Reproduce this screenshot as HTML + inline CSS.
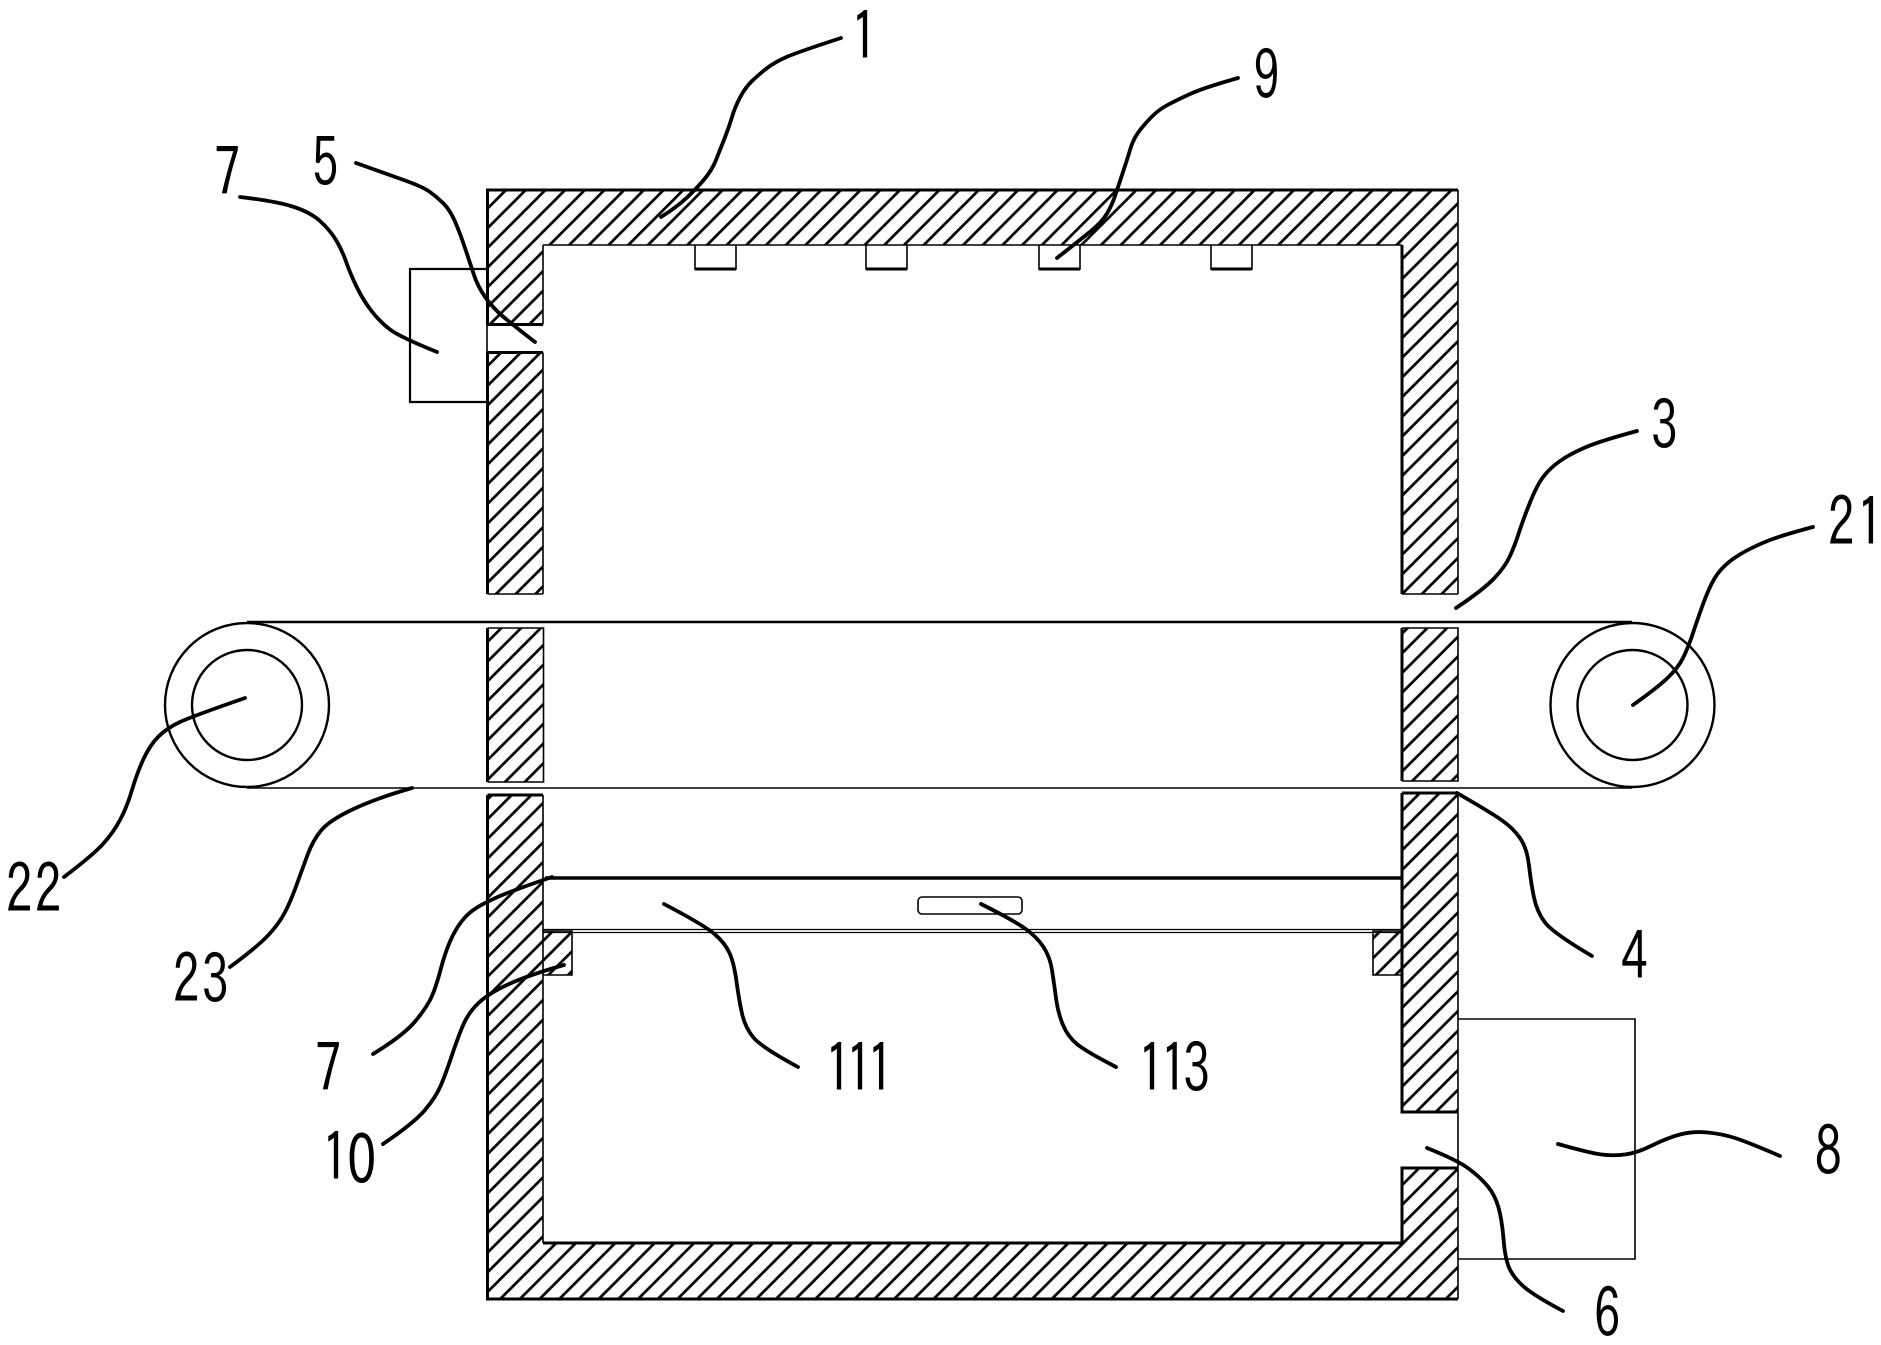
<!DOCTYPE html>
<html>
<head>
<meta charset="utf-8">
<style>
html,body{margin:0;padding:0;background:#fff;width:1881px;height:1345px;overflow:hidden}
svg{display:block}
.l{fill:none;stroke:#000;stroke-width:3.8;stroke-linejoin:round;stroke-linecap:round}
.t{font-family:"IPAGothic","Noto Sans CJK JP",sans-serif;font-size:68px;fill:#000;letter-spacing:3px}
.n{letter-spacing:-7px}
.m{letter-spacing:-5px}
.z{font-family:"Noto Sans CJK JP",sans-serif}
.a{stroke:#000;stroke-width:3;fill:none}
.b{stroke:#000;stroke-width:1.6;fill:none}
.h{fill:url(#h);stroke:none}
</style>
</head>
<body>
<svg width="1881" height="1345" viewBox="0 0 1881 1345" xmlns="http://www.w3.org/2000/svg">
<defs>
<pattern id="h" patternUnits="userSpaceOnUse" x="6.5" y="0" width="19.7" height="19.7">
<path d="M-2 2L2 -2M0 19.7L19.7 0M17.7 21.7L21.7 17.7" stroke="#000" stroke-width="2.7" fill="none"/>
</pattern>
</defs>
<rect width="1881" height="1345" fill="#fff"/>

<!-- hatched walls -->
<path class="h" d="M487.5 190H1458V594H1402V245H543V324.5H487.5Z"/>
<rect class="h" x="487.5" y="352.5" width="55.5" height="241.5"/>
<rect class="h" x="487.5" y="628" width="56" height="154"/>
<rect class="h" x="1402" y="628" width="56" height="153"/>
<path class="h" d="M487.5 795H543V1243H1402V1168H1458V1299H487.5Z"/>
<rect class="h" x="1402" y="793" width="56" height="319"/>
<rect class="h" x="543" y="931" width="29" height="44"/>
<rect class="h" x="1373" y="931" width="29" height="44"/>

<!-- wall outlines -->
<path class="a" d="M487.5 324.5V190H1458"/>
<path class="b" d="M1458 190V594"/>
<path class="b" d="M543 245H1402"/>
<path class="b" d="M543 245V324.5"/>
<path class="a" d="M1402 245V594"/>
<path class="a" d="M487.5 324.5H543M487.5 352.5H543M487.5 352.5V594"/>
<path class="b" d="M543 352.5V594M487.5 594H543M1402 594H1458"/>
<path class="a" d="M487.5 628V782M1402 628V781"/>
<path class="b" d="M487.5 628H543.5V782H487.5M1402 628H1458V781H1402"/>
<path class="a" d="M487.5 795H543M487.5 795V1299H1458M543 1243H1402V1168H1458M1402 793H1458M1402 793V1112H1458"/>
<path class="b" d="M543 795V1243M1458 793V1112M1458 1168V1299"/>

<!-- small blocks -->
<path class="b" d="M543 931H572V975H543M1402 931H1373V975H1402"/>

<!-- plates -->
<path d="M545 878H1402" stroke="#000" stroke-width="3.6" fill="none"/>
<path class="b" d="M543 929.5H1402" style="stroke-width:1.3"/>
<path class="b" d="M543 932.5H1402" style="stroke-width:1.3"/>
<rect class="b" x="918" y="897" width="104" height="17" rx="4"/>

<!-- teeth -->
<g>
<path class="b" d="M695 245V269H736V245M866 245V269H907V245M1039 245V269H1080V245M1211 245V269H1252V245"/>
<path class="a" d="M695 269H736M866 269H907M1039 269H1080M1211 269H1252"/>
</g>

<!-- side boxes -->
<path class="a" style="stroke-width:2.2" d="M487 269H410V402H487"/>
<path class="b" d="M487 324V353"/>
<path class="b" d="M1458 1019H1635V1259H1458"/>
<path class="b" d="M1458 1112V1168"/>

<!-- belt + rollers -->
<path d="M247 622H1632" stroke="#000" stroke-width="2.4" fill="none"/>
<path d="M247 788H1632" stroke="#000" stroke-width="1.5" fill="none"/>
<circle cx="247" cy="705" r="82" class="b" style="stroke-width:2.4"/>
<circle cx="247" cy="705" r="55" class="b" style="stroke-width:2.4"/>
<circle cx="1632.5" cy="705" r="82" class="b" style="stroke-width:2.4"/>
<circle cx="1632.5" cy="705" r="55" class="b" style="stroke-width:2.4"/>

<!-- leaders -->
<path class="l" d="M661 217Q677 207 687 197.5Q697 188 704.5 179Q712 170 716 160Q720 150 724.5 138.5Q729 127 732 117Q735 107 740 97.5Q745 88 751.5 81.5Q758 75 766.5 68.5Q775 62 786.5 57Q798 52 841 38"/>
<path class="l" d="M1057 258Q1080 240 1091 231Q1102 222 1107 213.5Q1112 205 1115 196Q1118 187 1122.5 173.5Q1127 160 1130 150Q1133 140 1137.5 133.5Q1142 127 1150 118.5Q1158 110 1167.5 105Q1177 100 1190 94Q1203 88 1238 78"/>
<path class="l" d="M356 163Q390 175 406.5 181Q423 187 430 192Q437 197 443.5 203.5Q450 210 455 221.5Q460 233 465 248Q470 263 474 275Q478 287 485.5 297.5Q493 308 503 316.5Q513 325 535 342"/>
<path class="l" d="M240 197Q275 201 292.5 206.5Q310 212 320 221Q330 230 336 240Q342 250 346 261.5Q350 273 356.5 286.5Q363 300 371.5 311Q380 322 390 329.5Q400 337 437 352"/>
<path class="l" d="M1456 608Q1483 590 1494 578.5Q1505 567 1510 556Q1515 545 1519 532.5Q1523 520 1530 502.5Q1537 485 1543.5 476.5Q1550 468 1560 461Q1570 454 1585 447.5Q1600 441 1637 431"/>
<path class="l" d="M1633 705Q1657 688 1667.5 678Q1678 668 1683 658Q1688 648 1693 633Q1698 618 1702.5 605.5Q1707 593 1712 583Q1717 573 1725 565.5Q1733 558 1745 551.5Q1757 545 1770 540Q1783 535 1813 527"/>
<path class="l" d="M245 698Q193 716 180 722Q167 728 158.5 736.5Q150 745 143.5 759Q137 773 132 790Q127 807 120 820Q113 833 103 844Q93 855 64 877"/>
<path class="l" d="M412 788Q377 798 353.5 809Q330 820 321.5 830Q313 840 307.5 855Q302 870 296 886.5Q290 903 284 914Q278 925 267.5 936Q257 947 230 967"/>
<path class="l" d="M552 877Q514 890 500 896Q486 902 477 907.5Q468 913 461.5 921.5Q455 930 450 941.5Q445 953 440.5 970Q436 987 431.5 997Q427 1007 415.5 1021Q404 1035 373 1054"/>
<path class="l" d="M564 965Q529 975 509 984Q489 993 478.5 1003Q468 1013 462.5 1026.5Q457 1040 451.5 1056.5Q446 1073 441 1085Q436 1097 425 1110Q414 1123 383 1144"/>
<path class="l" d="M664 904Q704 925 714.5 934Q725 943 729.5 953Q734 963 736.5 981.5Q739 1000 742 1013.5Q745 1027 753 1037Q761 1047 798 1067"/>
<path class="l" d="M981 904Q1013 920 1025 928.5Q1037 937 1043.5 947Q1050 957 1052 970Q1054 983 1056 998Q1058 1013 1063 1025Q1068 1037 1077.5 1044.5Q1087 1052 1116 1067"/>
<path class="l" d="M1457 793Q1490 812 1501.5 820Q1513 828 1520 838Q1527 848 1529 865.5Q1531 883 1534 897.5Q1537 912 1545 922.5Q1553 933 1592 956"/>
<path class="l" d="M1558 1144Q1590 1153 1601.5 1154.5Q1613 1156 1625 1154.5Q1637 1153 1652 1145.5Q1667 1138 1680 1134.5Q1693 1131 1708 1132.5Q1723 1134 1736.5 1138.5Q1750 1143 1780 1156"/>
<path class="l" d="M1427 1148Q1457 1160 1468.5 1168.5Q1480 1177 1487.5 1186Q1495 1195 1498.5 1207.5Q1502 1220 1503.5 1239Q1505 1258 1509 1267.5Q1513 1277 1523 1286Q1533 1295 1563 1311"/>

<!-- labels -->
<g class="t">
<text transform="translate(851,61) scale(.78,1)">1</text>
<text transform="translate(1253,100) scale(.78,1)">9</text>
<text transform="translate(312,187) scale(.78,1)">5</text>
<text transform="translate(214,197) scale(.78,1)">7</text>
<text transform="translate(1651,450) scale(.78,1)">3</text>
<text transform="translate(1828,547) scale(.78,1)">21</text>
<text transform="translate(6,914) scale(.78,1)">22</text>
<text transform="translate(173,1004) scale(.78,1)">23</text>
<text transform="translate(315,1093) scale(.78,1)">7</text>
<text transform="translate(322,1182) scale(.78,1)" style="letter-spacing:-2px">1<tspan class="z">0</tspan></text>
<text class="n" transform="translate(825,1093) scale(.78,1)">111</text>
<text class="m" transform="translate(1138,1093) scale(.78,1)">113</text>
<text transform="translate(1621,981) scale(.78,1)">4</text>
<text transform="translate(1815,1176) scale(.78,1)">8</text>
<text transform="translate(1594,1338) scale(.78,1)">6</text>
</g>
</svg>
</body>
</html>
